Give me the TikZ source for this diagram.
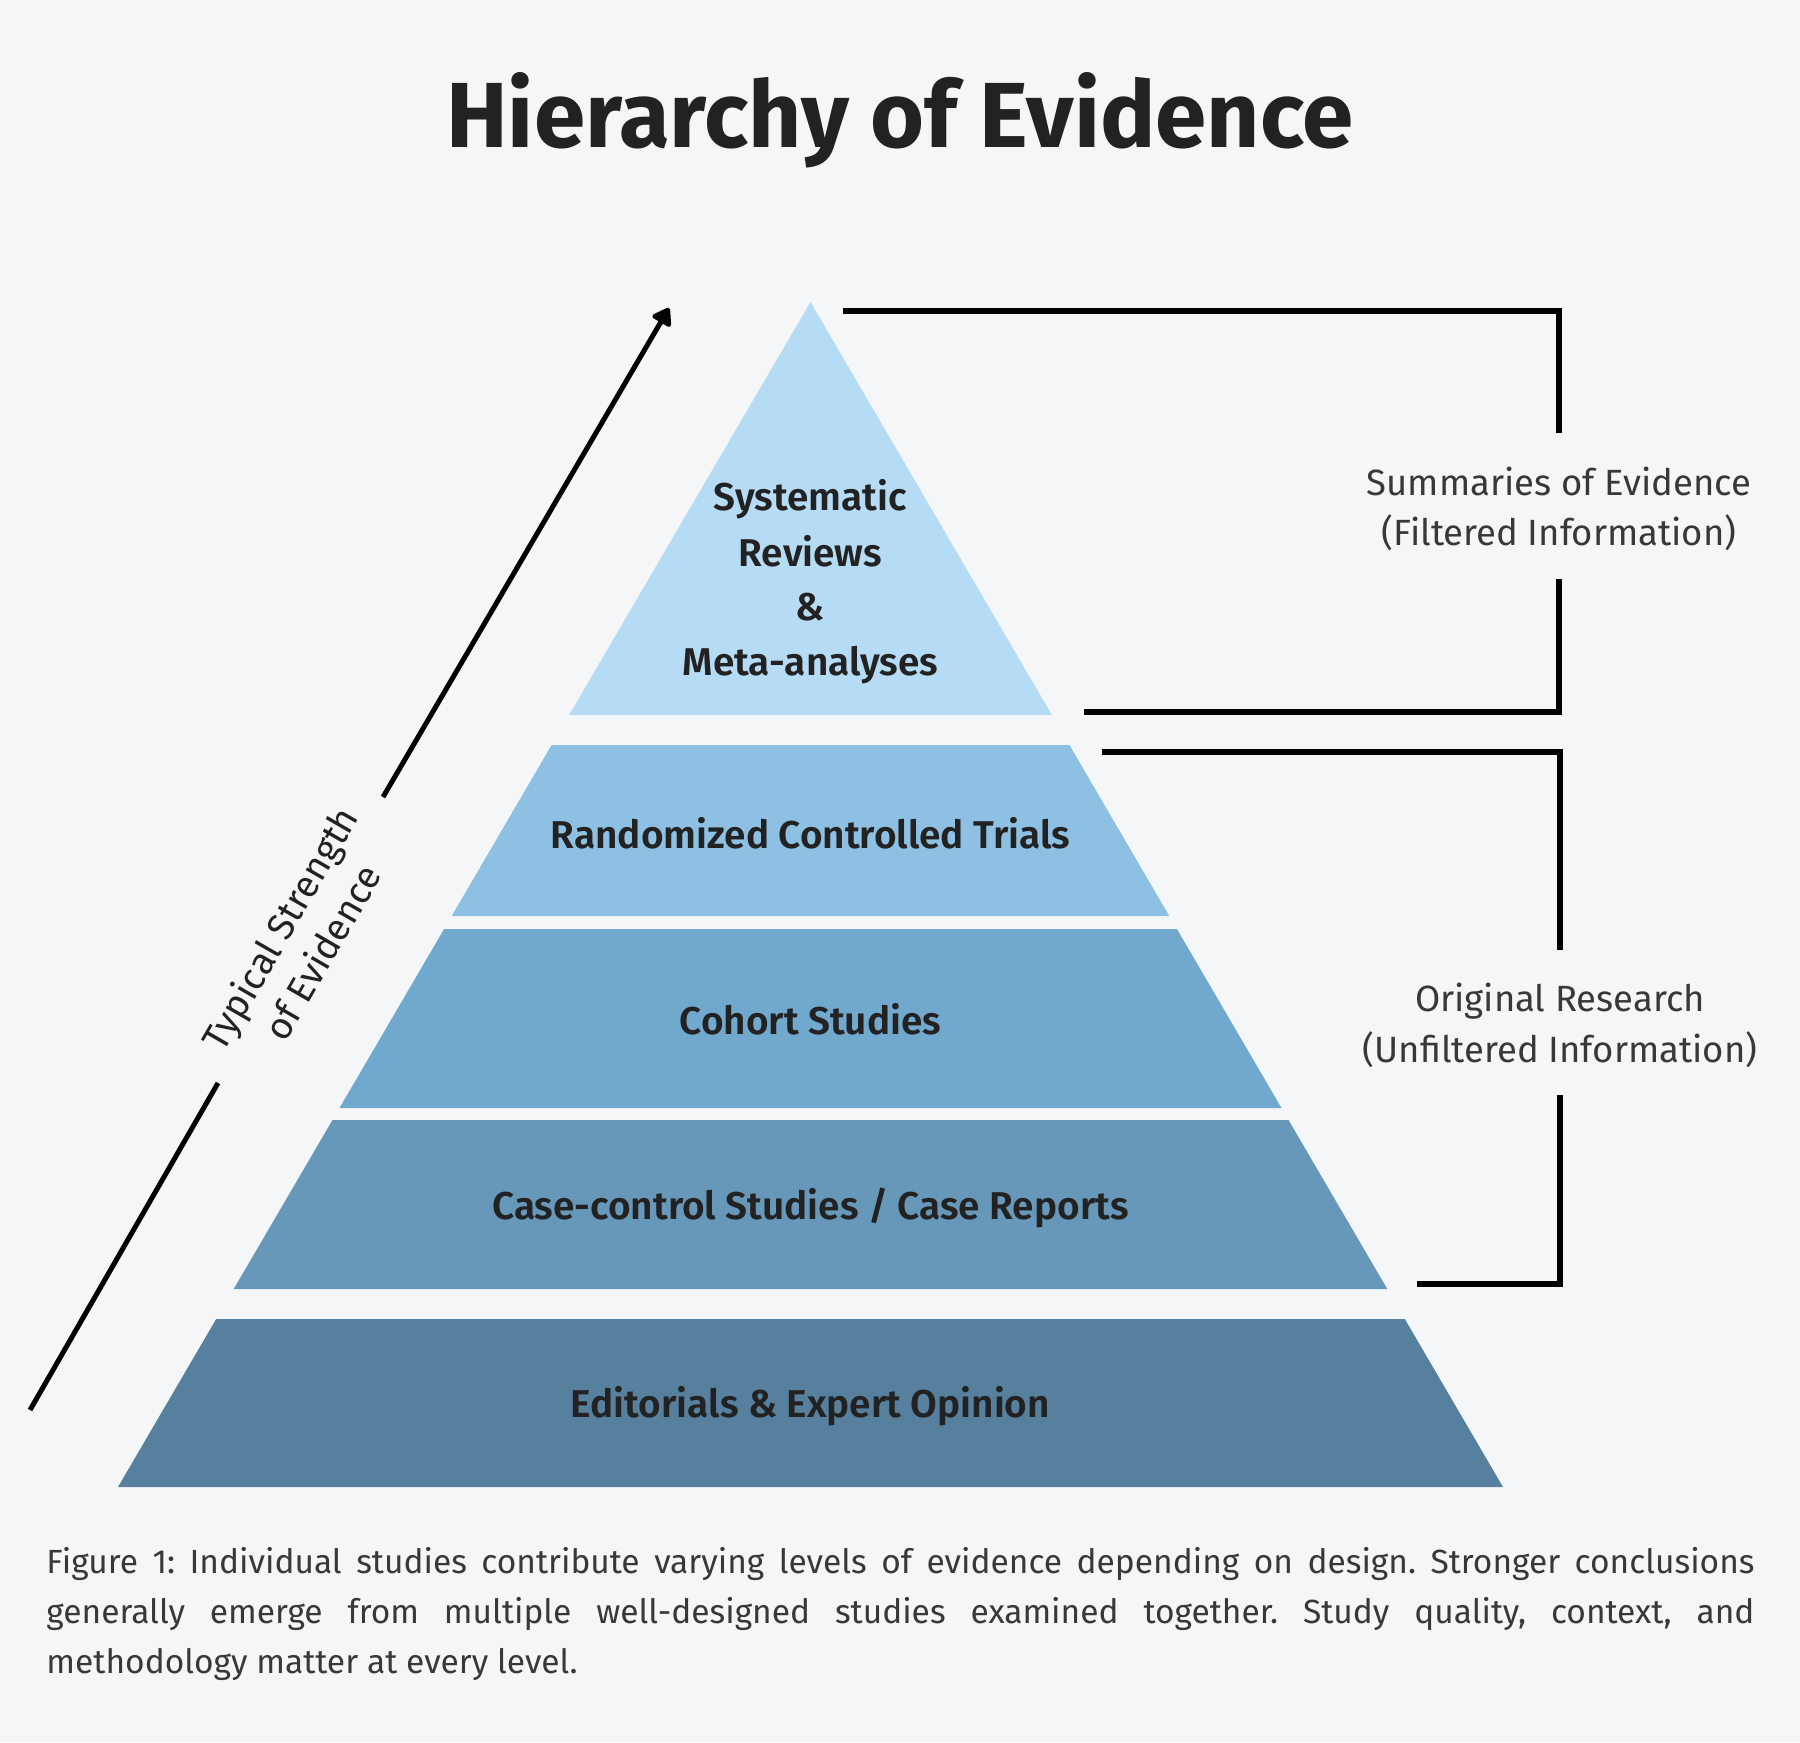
\documentclass[tikz,border=0pt]{standalone}
\usepackage{fontspec}
\setmainfont{Fira Sans}
\newfontfamily\semib{Fira Sans SemiBold}
\usetikzlibrary{arrows.meta}
\definecolor{bg}{HTML}{F5F6F8}
\definecolor{ink}{HTML}{222222}
\definecolor{tA}{HTML}{B6DCF5}
\definecolor{tB}{HTML}{8EC0E3}
\definecolor{tC}{HTML}{71A8CE}
\definecolor{tD}{HTML}{6898B9}
\definecolor{tE}{HTML}{577F9E}
\tikzset{
  lvl/.style={font=\fontsize{15.5pt}{18pt}\semib, text=ink, anchor=base, inner sep=0pt},
  side/.style={font=\fontsize{14.6pt}{20pt}\selectfont, text=ink!90, anchor=base, inner sep=0pt},
  brk/.style={line width=2.3pt, black},
  arr/.style={line width=2pt, black},
}
\begin{document}
\begin{tikzpicture}[x=0.4pt,y=-0.4pt]
\fill[bg] (0,0) rectangle (1800,1742);
\useasboundingbox (0,0) rectangle (1800,1742);
% title
\node[font=\fontsize{37pt}{40pt}\selectfont\bfseries, text=ink, anchor=base, inner sep=0pt] (title) at (900,147) {Hierarchy of Evidence};
% pyramid tiers
\fill[tA] (810.5,302) -- (1051.9,715) -- (569.1,715) -- cycle;
\fill[tB] (551.6,745) -- (1069.4,745) -- (1169.3,916) -- (451.7,916) -- cycle;
\fill[tC] (444.1,929) -- (1176.9,929) -- (1281.5,1108) -- (339.5,1108) -- cycle;
\fill[tD] (332.5,1120) -- (1288.5,1120) -- (1387.3,1289) -- (233.7,1289) -- cycle;
\fill[tE] (216.2,1319) -- (1404.8,1319) -- (1503,1487) -- (118,1487) -- cycle;
% tier labels
\node[lvl] (sr1) at (810.5,510) {Systematic};
\node[lvl] (sr2) at (810.5,566) {Reviews};
\node[lvl] (sr3) at (810.5,620) {\&};
\node[lvl] (sr4) at (810.5,675) {Meta-analyses};
\node[lvl] (rct) at (810.5,848) {Randomized Controlled Trials};
\node[lvl] (coh) at (810.5,1034) {Cohort Studies};
\node[lvl] (cc) at (810.5,1219) {Case-control Studies / Case Reports};
\node[lvl] (eo) at (810.5,1417) {Editorials \& Expert Opinion};
% strength arrow
\coordinate (a0) at (30,1410);
\coordinate (a1) at (218,1083);
\coordinate (a2) at (383,797);
\coordinate (a3) at (669,308);
\draw[arr] (a0) -- (a1);
\draw[arr, -{Triangle[length=7.5pt,width=9.5pt,round]}] (a2) -- (a3);
\path (a1) -- (a2) node[midway, sloped, align=center, font=\fontsize{15pt}{19.5pt}\selectfont, text=ink, inner sep=0pt] (str) {Typical Strength\\of Evidence};
% bracket 1
\coordinate (b1a) at (843,311);
\coordinate (b1b) at (1559,311);
\coordinate (b1c) at (1559,433);
\coordinate (b1d) at (1559,579);
\coordinate (b1e) at (1559,712);
\coordinate (b1f) at (1084,712);
\draw[brk] (b1a) -- (b1b) -- (b1c);
\draw[brk] (b1d) -- (b1e) -- (b1f);
\node[side] (sum1) at (1559,495) {Summaries of Evidence};
\node[side] (sum2) at (1559,545) {(Filtered Information)};
% bracket 2
\coordinate (b2a) at (1102,752);
\coordinate (b2b) at (1560,752);
\coordinate (b2c) at (1560,950);
\coordinate (b2d) at (1560,1095);
\coordinate (b2e) at (1560,1284);
\coordinate (b2f) at (1417,1284);
\draw[brk] (b2a) -- (b2b) -- (b2c);
\draw[brk] (b2d) -- (b2e) -- (b2f);
\node[side] (or1) at (1560,1011) {Original Research};
\node[side] (or2) at (1560,1062) {(Unfiltered Information)};
% caption
\node[anchor=base west, inner sep=0pt, text width=683.2pt, align=justify, font=\fontsize{13.4pt}{20pt}\selectfont\frenchspacing, text=ink!90] (cap) at (46,1573) {Figure 1: Individual studies contribute varying levels of evidence depending on design. Stronger conclusions\linebreak generally emerge from multiple well-designed studies examined together. Study quality, context, and\linebreak methodology matter at every level.};
\end{tikzpicture}
\end{document}
